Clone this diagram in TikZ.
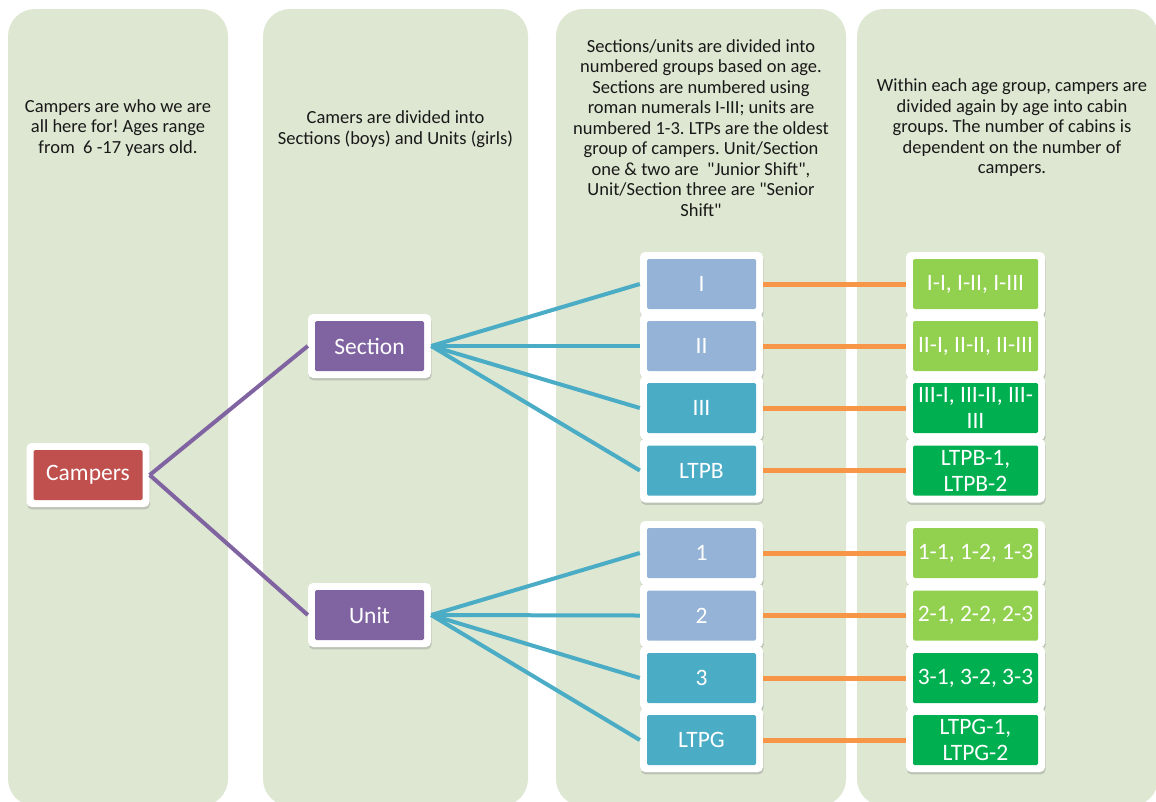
\documentclass[tikz,border=0pt]{standalone}
\usepackage{fontspec}
\setmainfont{Carlito}[Ligatures=TeXOff]
\usepackage{tikz}
\usetikzlibrary{shadows}
\frenchspacing

\definecolor{panelgreen}{RGB}{221,231,209}
\definecolor{campred}{RGB}{192,80,77}
\definecolor{secpurple}{RGB}{128,100,162}
\definecolor{paleblue}{RGB}{149,179,215}
\definecolor{tealblue}{RGB}{75,172,198}
\definecolor{limegreen}{RGB}{146,208,80}
\definecolor{deepgreen}{RGB}{0,176,80}
\definecolor{linkorange}{RGB}{247,150,70}

\newcommand{\boxfont}{\fontsize{23.5}{26}\selectfont}
\newcommand{\notefont}{\fontsize{18.5}{20.5}\selectfont}

\begin{document}
\begin{tikzpicture}[x=1pt,y=-1pt,
        panel/.style={fill=panelgreen,rounded corners=27pt},
        note/.style={align=center,font=\notefont,text=black!90,inner sep=0pt},
        box/.style={rectangle,fill=white,rounded corners=5pt,
            minimum width=123pt,minimum height=64pt,inner sep=0pt,
            text=white,font=\boxfont,align=center,
            drop shadow={shadow xshift=.6pt,shadow yshift=-2.4pt,opacity=.35},
            path picture={\fill[#1,rounded corners=1.5pt]
                ([shift={(7pt,7pt)}]path picture bounding box.south west) rectangle
                ([shift={(-7pt,-7pt)}]path picture bounding box.north east);}},
        widebox/.style={box=#1,minimum width=139pt},
        purpleline/.style={draw=secpurple,line width=4pt},
        tealline/.style={draw=tealblue,line width=4pt},
        orangeline/.style={draw=linkorange,line width=5pt}]
        \useasboundingbox (0,0) rectangle (1156,801);

        % columns
        \fill[panel] (8,9) rectangle (228,806);
        \fill[panel] (263,9) rectangle (528,806);
        \fill[panel] (556,9) rectangle (846,806);
        \fill[panel] (857,9) rectangle (1158,806);

        \node[note] (N1) at (118,128) {Campers are who we are\\ all here for! Ages range\\ from\ \ 6 -17 years old.};
        \node[note] (N2) at (395.5,129) {Camers are divided into\\ Sections (boys) and Units (girls)};
        \node[note] (N3) at (701,128) {Sections/units are divided into\\ numbered groups based on age.\\ Sections are numbered using\\ roman numerals I-III; units are\\ numbered 1-3. LTPs are the oldest\\ group of campers. Unit/Section\\ one \& two are\ \ "Junior Shift",\\ Unit/Section three are "Senior\\ Shift"};
        \node[note] (N4) at (1012,128) {Within each age group, campers are\\ divided again by age into cabin\\ groups. The number of cabins is\\ dependent on the number of\\ campers.};

        % campers, sections and units
        \node[box=campred] (Camp) at (88,475) {Campers};
        \node[box=secpurple] (Sec) at (369.5,346) {Section};
        \node[box=secpurple] (Unit) at (369.5,615) {Unit};

        % age groups
        \node[box=paleblue] (SI) at (701.5,284) {I};
        \node[box=paleblue] (SII) at (701.5,346) {II};
        \node[box=tealblue] (SIII) at (701.5,408) {III};
        \node[box=tealblue] (LTPB) at (701.5,470.5) {LTPB};
        \node[box=paleblue] (U1) at (701.5,553) {1};
        \node[box=paleblue] (U2) at (701.5,615.5) {2};
        \node[box=tealblue] (U3) at (701.5,678) {3};
        \node[box=tealblue] (LTPG) at (701.5,740) {LTPG};

        % cabins
        \node[widebox=limegreen] (CI) at (975.5,284) {I-I, I-II, I-III};
        \node[widebox=limegreen] (CII) at (975.5,346) {II-I, II-II, II-III};
        \node[widebox=deepgreen] (CIII) at (975.5,408) {III-I, III-II, III-\\III};
        \node[widebox=deepgreen] (CLB) at (975.5,470.5) {LTPB-1,\\LTPB-2};
        \node[widebox=limegreen] (C1) at (975.5,553) {1-1, 1-2, 1-3};
        \node[widebox=limegreen] (C2) at (975.5,615.5) {2-1, 2-2, 2-3};
        \node[widebox=deepgreen] (C3) at (975.5,678) {3-1, 3-2, 3-3};
        \node[widebox=deepgreen] (CLG) at (975.5,740) {LTPG-1,\\LTPG-2};

        \draw[purpleline] (Camp.east) -- (Sec.west);
        \draw[purpleline] (Camp.east) -- (Unit.west);

        \draw[tealline] (Sec.east) -- (SI.west);
        \draw[tealline] (Sec.east) -- (SII.west);
        \draw[tealline] (Sec.east) -- (SIII.west);
        \draw[tealline] (Sec.east) -- (LTPB.west);
        \draw[tealline] (Unit.east) -- (U1.west);
        \draw[tealline] (Unit.east) -- (U2.west);
        \draw[tealline] (Unit.east) -- (U3.west);
        \draw[tealline] (Unit.east) -- (LTPG.west);

        \draw[orangeline] (SI.east) -- (CI.west);
        \draw[orangeline] (SII.east) -- (CII.west);
        \draw[orangeline] (SIII.east) -- (CIII.west);
        \draw[orangeline] (LTPB.east) -- (CLB.west);
        \draw[orangeline] (U1.east) -- (C1.west);
        \draw[orangeline] (U2.east) -- (C2.west);
        \draw[orangeline] (U3.east) -- (C3.west);
        \draw[orangeline] (LTPG.east) -- (CLG.west);
\end{tikzpicture}
\end{document}
